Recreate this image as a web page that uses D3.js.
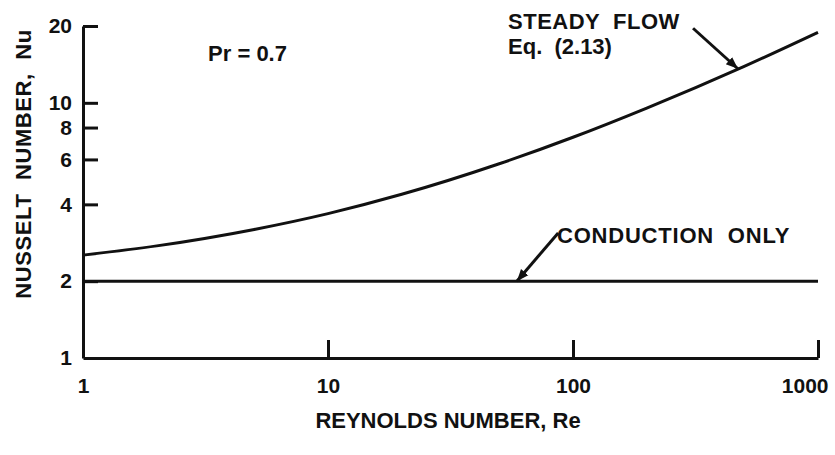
<!DOCTYPE html>
<html>
<head>
<meta charset="utf-8">
<script src="https://cdn.jsdelivr.net/npm/d3@7"></script>
<style>
  body { margin: 0; background: #fff; }
  svg text { font-family: "Liberation Sans", Arial, sans-serif; font-weight: bold; fill: #111; }
</style>
</head>
<body>
<svg id="svg" width="835" height="455"></svg>
<script>
// values
const reynolds = [1, 2, 5, 10, 20, 50, 100, 200, 500, 1000]
const nuSteady = [2.53, 2.75, 3.19, 3.68, 4.38, 5.77, 7.33, 9.54, 13.9, 18.9]
const reConduction = [1, 1000]
const nuConduction = [2, 2]

const xTicks = [1, 10, 100, 1000]
const yTicks = [1, 2, 4, 6, 8, 10, 20]

const svg = d3.select("#svg")
const ink = "#111"

const x = d3.scaleLog().domain([1, 1000]).range([83, 818])
const y = d3.scaleLog().domain([1, 20]).range([358, 26])

// axes, ticks point inward like the original
const xAxis = svg.append("g")
    .attr("transform", `translate(0,${y(1)})`)
    .call(d3.axisBottom(x).tickValues(xTicks).tickFormat(d3.format("d"))
      .tickSizeInner(-18).tickSizeOuter(0).tickPadding(20))

const yAxis = svg.append("g")
    .attr("transform", `translate(${x(1)},0)`)
    .call(d3.axisLeft(y).tickValues(yTicks).tickFormat(d3.format("d"))
      .tickSizeInner(-15).tickSizeOuter(0).tickPadding(11))

for (const g of [xAxis, yAxis]) {
  g.select(".domain").attr("stroke", ink).attr("stroke-width", 3)
  g.selectAll(".tick line").attr("stroke", ink).attr("stroke-width", 3)
  g.selectAll(".tick text").attr("font-size", 21).attr("font-family", null).attr("fill", ink)
}
// no tick mark at the corner
yAxis.selectAll(".tick").filter(d => d === 1).select("line").remove()
xAxis.selectAll(".tick").filter(d => d === 1).select("line").remove()
// last label is pulled in so it stays on the page
xAxis.selectAll(".tick").filter(d => d === 1000).select("text")
    .attr("text-anchor", "end").attr("x", 10)

const line = d3.line()
    .x(d => x(d[0]))
    .y(d => y(d[1]))
    .curve(d3.curveMonotoneX)

svg.append("path")
    .datum(d3.zip(reynolds, nuSteady))
    .attr("d", line)
    .attr("fill", "none")
    .attr("stroke", ink)
    .attr("stroke-width", 3)

svg.append("path")
    .datum(d3.zip(reConduction, nuConduction))
    .attr("d", line)
    .attr("fill", "none")
    .attr("stroke", ink)
    .attr("stroke-width", 3)

// leader arrows
svg.append("defs").append("marker")
    .attr("id", "arrow")
    .attr("viewBox", "0 0 10 10")
    .attr("refX", 10).attr("refY", 5)
    .attr("markerWidth", 4).attr("markerHeight", 4)
    .attr("orient", "auto")
  .append("path")
    .attr("d", "M0,1L10,5L0,9Z")
    .attr("fill", ink)

const leaders = [
  {from: [309, 19.6], to: [471, 13.6]},
  {from: [87, 3.09], to: [59, 2.0]}
]
svg.selectAll(".leader")
  .data(leaders)
  .join("line")
    .attr("class", "leader")
    .attr("x1", d => x(d.from[0])).attr("y1", d => y(d.from[1]))
    .attr("x2", d => x(d.to[0])).attr("y2", d => y(d.to[1]))
    .attr("stroke", ink)
    .attr("stroke-width", 3)
    .attr("marker-end", "url(#arrow)")

// labels, placed in data units
const labels = [
  {text: "Pr = 0.7", re: 3.24, nu: 14.6, ls: 0},
  {text: "STEADY  FLOW", re: 54.3, nu: 19.4, ls: 0.5},
  {text: "Eq.  (2.13)", re: 54.3, nu: 15.6, ls: 0},
  {text: "CONDUCTION  ONLY", re: 86, nu: 2.82, ls: 0.8}
]
svg.selectAll(".label")
  .data(labels)
  .join("text")
    .attr("class", "label")
    .attr("x", d => x(d.re))
    .attr("y", d => y(d.nu))
    .attr("font-size", 22)
    .attr("letter-spacing", d => d.ls)
    .style("white-space", "pre")
    .text(d => d.text)

svg.append("text")
    .attr("x", 448).attr("y", 428)
    .attr("text-anchor", "middle")
    .attr("font-size", 22)
    .text("REYNOLDS NUMBER, Re")

svg.append("text")
    .attr("transform", "translate(31,164) rotate(-90)")
    .attr("text-anchor", "middle")
    .attr("font-size", 22)
    .attr("letter-spacing", 0.6)
    .style("white-space", "pre")
    .text("NUSSELT  NUMBER,  Nu")
</script>
</body>
</html>
